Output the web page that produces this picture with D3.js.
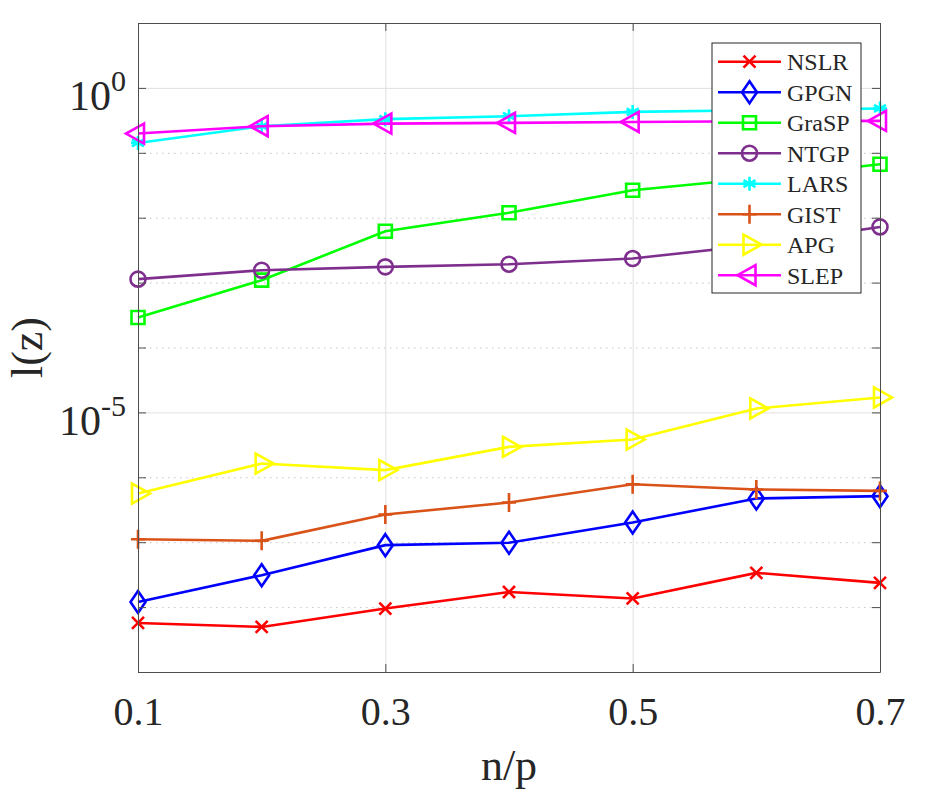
<!DOCTYPE html>
<html>
<head>
<meta charset="utf-8">
<script src="https://cdn.jsdelivr.net/npm/d3@7"></script>
<style>
  body { margin: 0; background: #fff; }
  text { font-family: "Liberation Serif", "Times New Roman", serif; fill: #262626; }
</style>
</head>
<body>
<div id="chart"></div>
<script>
// x positions (n/p)
const ratios = [0.1, 0.2, 0.3, 0.4, 0.5, 0.6, 0.7];

// l(z) values per method
const nslr  = [5.70e-9, 4.95e-9, 9.5e-9, 1.71e-8, 1.36e-8, 3.37e-8, 2.36e-8];
const gpgn  = [1.20e-8, 3.10e-8, 9.0e-8, 9.8e-8, 2.01e-7, 4.71e-7, 5.12e-7];
const grasp = [2.90e-4, 1.09e-3, 6.19e-3, 1.19e-2, 2.65e-2, 4.06e-2, 6.67e-2];
const ntgp  = [1.13e-3, 1.55e-3, 1.75e-3, 1.92e-3, 2.35e-3, 3.8e-3, 7.21e-3];
const lars  = [0.142, 0.257, 0.330, 0.366, 0.427, 0.453, 0.482];
const gist  = [1.11e-7, 1.05e-7, 2.67e-7, 4.09e-7, 7.83e-7, 6.49e-7, 6.17e-7];
const apg   = [5.62e-7, 1.63e-6, 1.29e-6, 2.94e-6, 3.82e-6, 1.15e-5, 1.70e-5];
const slep  = [0.198, 0.257, 0.282, 0.289, 0.299, 0.307, 0.310];

const seriesNames = ["NSLR", "GPGN", "GraSP", "NTGP", "LARS", "GIST", "APG", "SLEP"];
const seriesValues = [nslr, gpgn, grasp, ntgp, lars, gist, apg, slep];

// axis ticks
const xTicks = [0.1, 0.3, 0.5, 0.7];
const yMajorTicks = [1e0, 1e-5];
const yMinorTicks = [1e1, 1e-1, 1e-2, 1e-3, 1e-4, 1e-6, 1e-7, 1e-8, 1e-9];
const yAllTicks = [1e1, 1e0, 1e-1, 1e-2, 1e-3, 1e-4, 1e-5, 1e-6, 1e-7, 1e-8, 1e-9];

const colors = ["#ff0000", "#0000ff", "#00ff00", "#7e2f8e", "#00ffff", "#d95319", "#ffff00", "#ff00ff"];
const markers = ["x", "diamond", "square", "circle", "star", "plus", "triRight", "triLeft"];

// marker shapes, centred on the data point
const markerPath = {
  x: "M-6,-6L6,6M-6,6L6,-6",
  diamond: "M0,-11L7.5,0L0,11L-7.5,0Z",
  square: "M-6.5,-6.5h13v13h-13Z",
  circle: "M7.5,0A7.5,7.5 0 1,1 -7.5,0A7.5,7.5 0 1,1 7.5,0Z",
  star: "M0,-7V7M-6,-3.5L6,3.5M-6,3.5L6,-3.5M-7,0H7",
  plus: "M0,-9.5V9.5M-7,0H7",
  triRight: "M-6,-10L12,0L-6,10Z",
  triLeft: "M6,-10L-12,0L6,10Z"
};

const lineW = 2.6;

const margin = { top: 23, right: 50, bottom: 120, left: 138 },
    width = 930 - margin.left - margin.right,
    height = 792 - margin.top - margin.bottom;

const svg = d3.select("#chart")
    .append("svg")
    .attr("width", 930)
    .attr("height", 792);

svg.append("rect").attr("width", 930).attr("height", 792).attr("fill", "#fff");

const g = svg.append("g")
    .attr("transform", "translate(" + margin.left + "," + margin.top + ")");

const x = d3.scaleLinear().domain([0.1, 0.7]).range([0, width]);
const y = d3.scaleLog().domain([1e-9, 1e1]).range([height, 0]);

// grid: dotted minor decades, solid major decades and x grid
g.append("g")
    .call(d3.axisLeft(y).tickValues(yMinorTicks).tickSize(-width).tickFormat(""))
    .call(a => a.select(".domain").remove())
    .selectAll("line")
    .attr("stroke", "#c4c4c4")
    .attr("stroke-dasharray", "1.5,4.5");

g.append("g")
    .call(d3.axisLeft(y).tickValues(yMajorTicks).tickSize(-width).tickFormat(""))
    .call(a => a.select(".domain").remove())
    .selectAll("line")
    .attr("stroke", "#e0e0e0");

g.append("g")
    .attr("transform", "translate(0," + height + ")")
    .call(d3.axisBottom(x).tickValues([0.3, 0.5]).tickSize(-height).tickFormat(""))
    .call(a => a.select(".domain").remove())
    .selectAll("line")
    .attr("stroke", "#e0e0e0");

// lines and markers
seriesValues.forEach((vals, i) => {
    const pts = ratios.map((r, j) => ({ r: r, v: vals[j] }));
    g.append("path")
        .datum(pts)
        .attr("fill", "none")
        .attr("stroke", colors[i])
        .attr("stroke-width", lineW)
        .attr("d", d3.line().x(d => x(d.r)).y(d => y(d.v)));

    g.selectAll(".m" + i)
        .data(pts)
        .enter()
        .append("path")
        .attr("class", "m" + i)
        .attr("transform", d => "translate(" + x(d.r) + "," + y(d.v) + ")")
        .attr("d", markerPath[markers[i]])
        .attr("fill", "none")
        .attr("stroke", colors[i])
        .attr("stroke-width", lineW);
});

// axes (ticks point inward, box on all sides)
const axisColor = "#4d4d4d";

const leftAxis = g.append("g")
    .attr("class", "axis")
    .call(d3.axisLeft(y).tickValues(yAllTicks).tickSizeInner(-8).tickSizeOuter(0).tickPadding(12).tickFormat(""));

leftAxis.selectAll(".tick")
    .filter(d => yMajorTicks.includes(d))
    .select("text")
    .attr("dy", 22)
    .style("font-size", "42px")
    .each(function(d) {
        const t = d3.select(this);
        const p = Math.round(Math.log10(d));
        t.append("tspan").text("10");
        t.append("tspan")
            .attr("dy", -19)
            .style("font-size", "30px")
            .text(p === 0 ? "0" : "-" + Math.abs(p));
    });

g.append("g")
    .attr("class", "axis")
    .attr("transform", "translate(" + width + ",0)")
    .call(d3.axisRight(y).tickValues(yAllTicks).tickSizeInner(-8).tickSizeOuter(0).tickFormat(""));

g.append("g")
    .attr("class", "axis")
    .attr("transform", "translate(0," + height + ")")
    .call(d3.axisBottom(x).tickValues(xTicks).tickSizeInner(-8).tickSizeOuter(0).tickPadding(25).tickFormat(d3.format(".1f")))
    .selectAll("text")
    .style("font-size", "40px");

g.append("g")
    .attr("class", "axis")
    .call(d3.axisTop(x).tickValues(xTicks).tickSizeInner(-8).tickSizeOuter(0).tickFormat(""));

g.selectAll(".axis .domain, .axis .tick line").attr("stroke", axisColor);
g.selectAll(".axis .tick text")
    .attr("fill", "#262626")
    .style("font-family", "'Liberation Serif', 'Times New Roman', serif");

// axis labels
svg.append("text")
    .attr("x", margin.left + width / 2)
    .attr("y", 780)
    .attr("text-anchor", "middle")
    .style("font-size", "44px")
    .text("n/p");

svg.append("text")
    .attr("transform", "translate(42," + (margin.top + height / 2) + ")rotate(-90)")
    .attr("text-anchor", "middle")
    .style("font-size", "44px")
    .text("l(z)");

// legend
const legend = svg.append("g");
legend.append("rect")
    .attr("x", 712).attr("y", 43)
    .attr("width", 149).attr("height", 250)
    .attr("fill", "#fff")
    .attr("stroke", "#262626")
    .attr("stroke-width", 1);

seriesNames.forEach((name, i) => {
    const cy = 61.7 + i * 30.5;
    legend.append("line")
        .attr("x1", 718).attr("x2", 781)
        .attr("y1", cy).attr("y2", cy)
        .attr("stroke", colors[i])
        .attr("stroke-width", lineW);
    legend.append("path")
        .attr("transform", "translate(749.5," + cy + ")")
        .attr("d", markerPath[markers[i]])
        .attr("fill", "none")
        .attr("stroke", colors[i])
        .attr("stroke-width", lineW);
    legend.append("text")
        .attr("x", 787)
        .attr("y", cy + 8.5)
        .style("font-size", "24px")
        .text(name);
});
</script>
</body>
</html>
